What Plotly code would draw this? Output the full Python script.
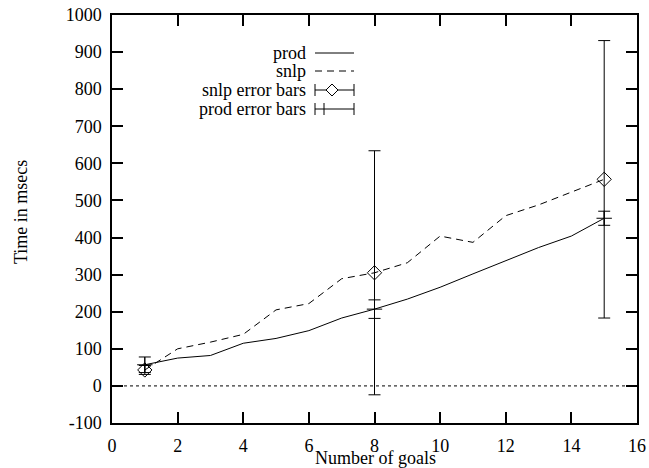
import plotly.graph_objects as go

goals = list(range(1, 16))
prod = [57, 75, 82, 115, 128, 149, 183, 207, 234, 266, 302, 338, 373, 404, 452]
snlp = [43, 100, 118, 139, 205, 222, 289, 305, 332, 404, 387, 459, 488, 523, 557]

err_x = [1, 8, 15]
snlp_err_y = [43, 305, 557]
snlp_err = [12, 329, 374]
prod_err_y = [57, 207, 452]
prod_err = [21, 25, 19]

x_ticks = list(range(0, 17, 2))
y_ticks = list(range(-100, 1001, 100))
y_tick_text = [str(v) for v in y_ticks]
legend_labels = ["prod", "snlp", "snlp error bars", "prod error bars"]

FONT = "Liberation Serif"
W, H = 649, 468
L, R, T, B = 112, 12, 15, 45
pw, ph = W - L - R, H - T - B


def px(xp):
    return (xp - L) / pw


def py(yp):
    return (H - B - yp) / ph


fig = go.Figure()
fig.add_trace(go.Scatter(x=goals, y=prod, mode="lines",
                         line=dict(color="black", width=1), showlegend=False))
fig.add_trace(go.Scatter(x=goals, y=snlp, mode="lines",
                         line=dict(color="black", width=1, dash="7px,5px"), showlegend=False))
fig.add_trace(go.Scatter(x=err_x, y=snlp_err_y, mode="markers",
                         marker=dict(symbol="diamond-open", size=11, color="black",
                                     line=dict(width=1, color="black")),
                         error_y=dict(type="data", array=snlp_err, color="black",
                                      thickness=1, width=6),
                         showlegend=False))
fig.add_trace(go.Scatter(x=err_x, y=prod_err_y, mode="markers",
                         marker=dict(symbol="cross-thin-open", size=11, color="black",
                                     line=dict(width=1, color="black")),
                         error_y=dict(type="data", array=prod_err, color="black",
                                      thickness=1, width=6),
                         showlegend=False))

shapes = [dict(type="line", xref="paper", yref="y", x0=0, x1=1, y0=0, y1=0,
               line=dict(color="black", width=1, dash="dot"))]
annotations = []
rows = [53, 71, 90, 109]
for i, lab in enumerate(legend_labels):
    yy = py(rows[i])
    annotations.append(dict(xref="paper", yref="paper", x=px(308), y=yy, text=lab,
                            showarrow=False, xanchor="right", yanchor="middle",
                            font=dict(family=FONT, size=18, color="black")))
x0, x1 = px(315), px(354)
shapes.append(dict(type="line", xref="paper", yref="paper", x0=x0, x1=x1,
                   y0=py(rows[0]), y1=py(rows[0]), line=dict(color="black", width=1)))
shapes.append(dict(type="line", xref="paper", yref="paper", x0=x0, x1=x1,
                   y0=py(rows[1]), y1=py(rows[1]), line=dict(color="black", width=1, dash="7px,5px")))
for r in rows[2:]:
    shapes.append(dict(type="line", xref="paper", yref="paper", x0=x0, x1=x1,
                       y0=py(r), y1=py(r), line=dict(color="black", width=1)))
    for xe in (315, 354):
        shapes.append(dict(type="line", xref="paper", yref="paper", x0=px(xe), x1=px(xe),
                           y0=py(r - 6), y1=py(r + 6), line=dict(color="black", width=1)))
cx, cy = 332, rows[2]
shapes.append(dict(type="path", xref="paper", yref="paper",
                   path=f"M {px(cx-6)},{py(cy)} L {px(cx)},{py(cy-6)} L {px(cx+6)},{py(cy)} L {px(cx)},{py(cy+6)} Z",
                   line=dict(color="black", width=1), fillcolor="white"))
cx, cy = 324, rows[3]
shapes.append(dict(type="line", xref="paper", yref="paper", x0=px(cx), x1=px(cx),
                   y0=py(cy - 6), y1=py(cy + 6), line=dict(color="black", width=1)))

annotations.append(dict(xref="paper", yref="paper", x=px(375), y=py(458), text="Number of goals",
                        showarrow=False, xanchor="center", yanchor="middle",
                        font=dict(family=FONT, size=18, color="black")))
annotations.append(dict(xref="paper", yref="paper", x=px(21), y=py(212), text="Time in msecs",
                        showarrow=False, xanchor="center", yanchor="middle", textangle=-90,
                        font=dict(family=FONT, size=18, color="black")))

axis_common = dict(showline=True, linecolor="black", linewidth=1.5, mirror="ticks",
                   ticks="inside", ticklen=11, tickwidth=1.5, tickcolor="black",
                   showgrid=False, zeroline=False, automargin=False,
                   ticklabeloverflow="allow",
                   tickfont=dict(family=FONT, size=18, color="black"))
fig.update_layout(
    width=W, height=H,
    margin=dict(l=L, r=R, t=T, b=B),
    paper_bgcolor="white", plot_bgcolor="white",
    shapes=shapes, annotations=annotations,
    xaxis=dict(range=[0, 16], tickvals=x_ticks, ticklabelstandoff=6, **axis_common),
    yaxis=dict(range=[-100, 1000], tickvals=y_ticks, ticktext=y_tick_text,
               ticklabelstandoff=5, **axis_common),
)
fig.write_html(
    "out.html",
    config={"displayModeBar": False},
    post_script="document.body.style.margin='0';document.body.style.overflow='hidden';",
)
